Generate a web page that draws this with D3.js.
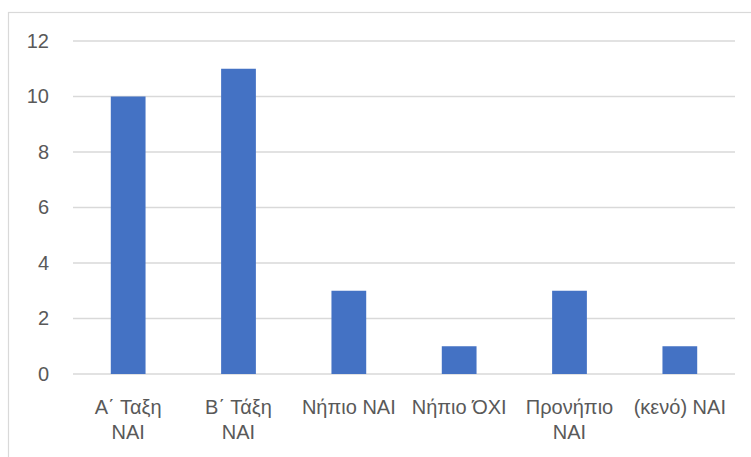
<!DOCTYPE html>
<html>
<head>
<meta charset="utf-8">
<script src="https://cdn.jsdelivr.net/npm/d3@7/dist/d3.min.js"></script>
<style>
  html, body { margin: 0; padding: 0; background: #fff; }
  svg { display: block; }
  text { font-family: "Liberation Sans", Arial, sans-serif; font-size: 20px; fill: #595959; }
</style>
</head>
<body>
<svg id="chart" width="751" height="457"></svg>
<script>
// Category names ("\n" marks where a tick label wraps)
const categories = ["Α΄ Ταξη\nNAI", "Β΄ Τάξη\nNAI", "Νήπιο NAI", "Νήπιο ΌΧΙ", "Προνήπιο\nNAI", "(κενό) NAI"];
const values = [10, 11, 3, 1, 3, 1];
const yTicks = [0, 2, 4, 6, 8, 10, 12];

const svg = d3.select("#chart");
const plot = { left: 73, right: 735, top: 41, bottom: 374 };

// Chart-area frame
svg.append("rect")
  .attr("x", 8.5).attr("y", 12.5)
  .attr("width", 800).attr("height", 500)
  .attr("fill", "#fff")
  .attr("stroke", "#d9d9d9")
  .attr("stroke-width", 1.2);

const x = d3.scaleBand()
  .domain(categories)
  .range([plot.left, plot.right])
  .paddingInner(0.685)
  .paddingOuter(0.3425);

const y = d3.scaleLinear()
  .domain([0, 12])
  .range([plot.bottom, plot.top]);

// Horizontal gridlines
svg.append("g")
  .selectAll("line")
  .data(yTicks)
  .join("line")
  .attr("x1", plot.left).attr("x2", plot.right)
  .attr("y1", d => y(d)).attr("y2", d => y(d))
  .attr("stroke", "#d9d9d9")
  .attr("stroke-width", 1.3);

// Y axis labels
const yAxis = d3.axisLeft(y).tickValues(yTicks).tickSize(0).tickPadding(24);
svg.append("g")
  .attr("transform", `translate(${plot.left},0)`)
  .call(yAxis)
  .call(g => g.select(".domain").remove())
  .call(g => g.selectAll("text")
    .attr("fill", "#595959")
    .style("font-family", "'Liberation Sans', Arial, sans-serif")
    .style("font-size", "20px"));

// Bars
svg.append("g")
  .selectAll("rect")
  .data(values)
  .join("rect")
  .attr("x", (d, i) => x(categories[i]))
  .attr("width", x.bandwidth())
  .attr("y", d => y(d))
  .attr("height", d => y(0) - y(d))
  .attr("fill", "#4472c4");

// X axis labels (possibly two lines each)
const xAxis = d3.axisBottom(x).tickSize(0).tickFormat("");
const xg = svg.append("g")
  .attr("transform", `translate(0,${plot.bottom})`)
  .call(xAxis)
  .call(g => g.select(".domain").remove());

xg.selectAll(".tick").each(function(d) {
  const t = d3.select(this).append("text")
    .attr("text-anchor", "middle")
    .attr("y", 40);
  d.split("\n").forEach((line, k) => {
    t.append("tspan")
      .attr("x", 0)
      .attr("dy", k === 0 ? 0 : 25)
      .text(line);
  });
});
</script>
</body>
</html>
